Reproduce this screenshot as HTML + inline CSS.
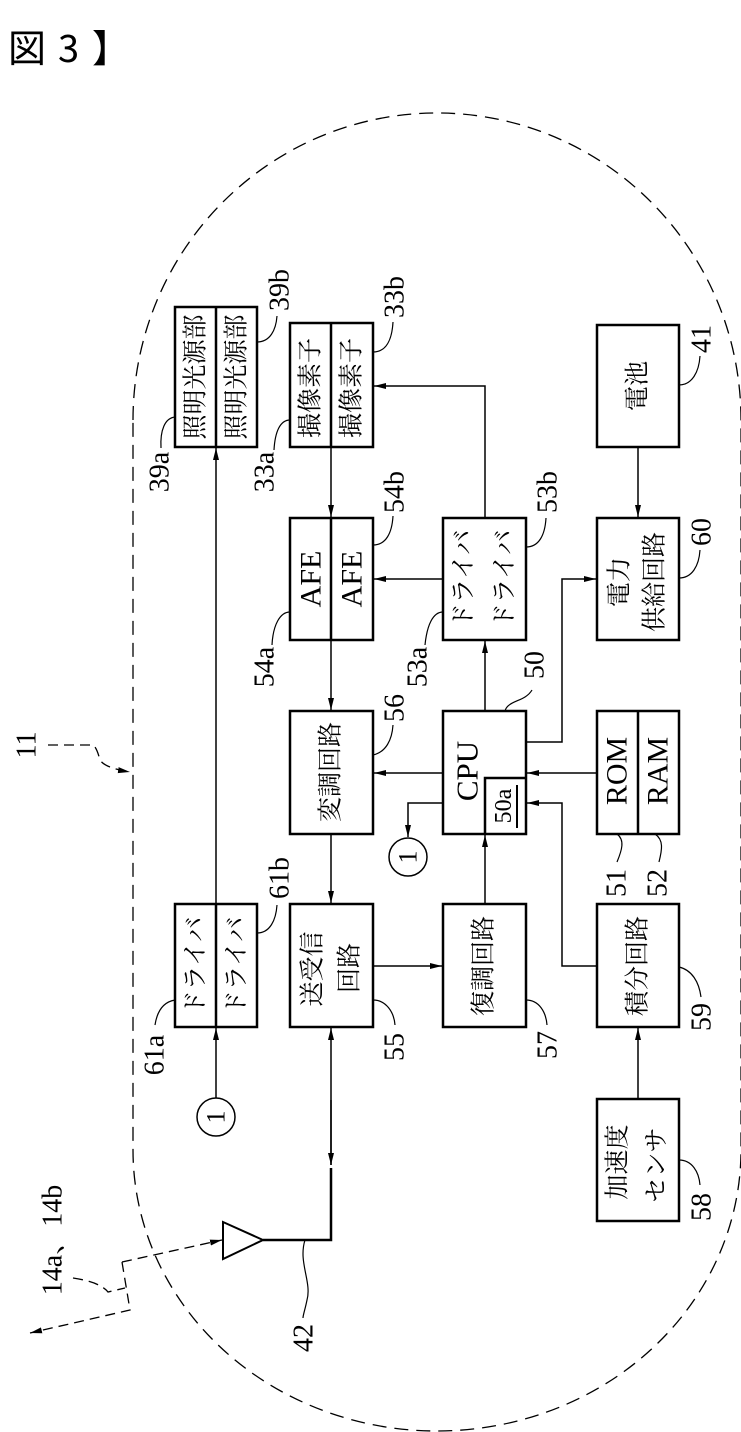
<!DOCTYPE html>
<html><head><meta charset="utf-8"><style>
html,body{margin:0;padding:0;background:#fff;}
svg{display:block;}
.t{font-family:"Liberation Serif","Noto Serif CJK JP",serif;fill:#000;}
.j{font-family:"Liberation Serif","Noto Serif CJK JP",serif;fill:#000;font-size:25px;}
.n{font-family:"Liberation Serif",serif;fill:#000;font-size:28px;}
</style></head><body>
<svg width="741" height="1432" viewBox="0 0 741 1432" xmlns="http://www.w3.org/2000/svg">
<defs>
<marker id="a" markerWidth="12" markerHeight="8" refX="12" refY="4" orient="auto" markerUnits="userSpaceOnUse"><path d="M0,1 L12,4 L0,7 Z" fill="#000"/></marker>
</defs>
<g style="font-family:'Noto Sans CJK JP',sans-serif;font-size:38px;">
<text x="8" y="62">図</text>
<text x="58" y="62">3</text>
<text x="92" y="62">】</text>
</g>

<!-- outline -->
<path d="M133,420 A304,307 0 0 1 741,420 L741,1150 A304,281 0 0 1 133,1150 Z" fill="none" stroke="#000" stroke-width="1.3" stroke-dasharray="14,8"/>

<g fill="none" stroke="#000" stroke-width="2.5">
<rect x="175" y="307" width="82" height="140"/>
<rect x="290" y="323" width="83" height="124"/>
<rect x="597" y="325" width="82" height="122"/>
<rect x="290" y="518" width="83" height="122"/>
<rect x="443" y="518" width="83" height="122"/>
<rect x="597" y="518" width="82" height="122"/>
<rect x="290" y="711" width="83" height="123"/>
<rect x="443" y="711" width="83" height="123"/>
<path d="M485,834 L485,778 L526,778"/>
<rect x="597" y="711" width="82" height="123"/>
<rect x="175" y="904" width="82" height="123"/>
<rect x="290" y="904" width="83" height="123"/>
<rect x="443" y="904" width="83" height="123"/>
<rect x="597" y="904" width="82" height="123"/>
<rect x="597" y="1099" width="82" height="122"/>
<line x1="216" y1="307" x2="216" y2="447"/>
<line x1="331" y1="323" x2="331" y2="447"/>
<line x1="331" y1="518" x2="331" y2="640"/>
<line x1="638" y1="711" x2="638" y2="834"/>
<line x1="216" y1="904" x2="216" y2="1027"/>
</g>

<!-- connectors -->
<g fill="none" stroke="#000" stroke-width="1.5">
<path d="M485,711 L485,641" marker-end="url(#a)"/>
<path d="M485,518 L485,386 L374,386" marker-end="url(#a)"/>
<path d="M443,579 L374,579" marker-end="url(#a)"/>
<path d="M331,447 L331,517" marker-end="url(#a)"/>
<path d="M331,640 L331,710" marker-end="url(#a)"/>
<path d="M443,773 L374,773" marker-end="url(#a)"/>
<path d="M443,803 L408,803 L408,837" marker-end="url(#a)"/>
<path d="M331,834 L331,903" marker-end="url(#a)"/>
<path d="M373,966 L442,966" marker-end="url(#a)"/>
<path d="M485,904 L485,835" marker-end="url(#a)"/>
<path d="M597,773 L527,773" marker-end="url(#a)"/>
<path d="M597,966 L562,966 L562,803 L527,803" marker-end="url(#a)"/>
<path d="M526,742 L562,742 L562,579 L596,579" marker-end="url(#a)"/>
<path d="M638,447 L638,517" marker-end="url(#a)"/>
<path d="M638,1099 L638,1028" marker-end="url(#a)"/>
<path d="M216,1098 L216,1028" marker-end="url(#a)"/>
<path d="M216,904 L216,448" marker-end="url(#a)"/>
<path d="M331,1165 L331,1028" marker-end="url(#a)"/>
<path d="M331,1100 L331,1165" marker-end="url(#a)"/>
<path d="M263,1240 L331,1240 L331,1168" stroke-width="2.5"/>
<polygon points="223,1222 223,1259 263,1240" stroke-width="2"/>
<circle cx="408" cy="857" r="19"/>
<circle cx="216" cy="1117" r="19"/>
<line x1="517" y1="785" x2="517" y2="828" stroke-width="2"/>
</g>

<!-- dashed radio path -->
<g fill="none" stroke="#000" stroke-width="1.3" stroke-dasharray="10,6">
<path d="M122,1262 L222,1240" marker-end="url(#a)"/>
<path d="M122,1262 L130,1310 L30,1333" marker-end="url(#a)"/>
<path d="M73,1278 Q100,1282 108,1292 L125,1288"/>
<path d="M48,745 L92,745 Q96,745 100,760 Q105,768 130,772" marker-end="url(#a)"/>
</g>

<!-- leaders -->
<g fill="none" stroke="#000" stroke-width="1.2">
<path d="M175,417 C165,418 160,430 161,448"/>
<path d="M257,342 C270,342 276,330 277,316"/>
<path d="M290,420 C280,420 275,432 274,450"/>
<path d="M373,352 C386,352 392,340 393,322"/>
<path d="M290,612 C280,612 273,625 272,645"/>
<path d="M373,545 C386,545 392,533 393,516"/>
<path d="M443,612 C433,612 427,625 425,645"/>
<path d="M526,547 C539,547 545,535 546,518"/>
<path d="M505,711 C508,700 525,702 532,690"/>
<path d="M679,385 C692,385 699,372 700,356"/>
<path d="M679,578 C692,578 699,566 700,550"/>
<path d="M373,755 C386,752 392,740 393,725"/>
<path d="M617,834 C625,840 622,850 617,862"/>
<path d="M655,834 C664,840 662,850 659,862"/>
<path d="M175,1000 C163,1002 157,1012 155,1025"/>
<path d="M257,933 C270,933 276,920 277,905"/>
<path d="M373,1000 C386,1000 394,1012 395,1025"/>
<path d="M526,1000 C539,1000 546,1012 547,1025"/>
<path d="M679,967 C692,970 699,982 701,997"/>
<path d="M679,1160 C692,1160 699,1172 700,1185"/>
<path d="M305,1240 C298,1262 312,1282 307,1300 C305,1310 303,1315 303,1318"/>
</g>

<!-- box texts (rotated -90) -->
<g class="j" text-anchor="middle" dominant-baseline="central">
<text transform="translate(196,377) rotate(-90)">照明光源部</text>
<text transform="translate(237,377) rotate(-90)">照明光源部</text>
<text transform="translate(311,388) rotate(-90)">撮像素子</text>
<text transform="translate(352,388) rotate(-90)">撮像素子</text>
<text transform="translate(464,579) rotate(-90)">ドライバ</text>
<text transform="translate(505,579) rotate(-90)">ドライバ</text>
<text transform="translate(638,386) rotate(-90)">電池</text>
<text transform="translate(620,582) rotate(-90)">電力</text>
<text transform="translate(655,582) rotate(-90)">供給回路</text>
<text transform="translate(331,772) rotate(-90)">変調回路</text>
<text transform="translate(484,966) rotate(-90)">復調回路</text>
<text transform="translate(638,966) rotate(-90)">積分回路</text>
<text transform="translate(313,969) rotate(-90)">送受信</text>
<text transform="translate(350,968) rotate(-90)">回路</text>
<text transform="translate(196,966) rotate(-90)">ドライバ</text>
<text transform="translate(237,966) rotate(-90)">ドライバ</text>
<text transform="translate(618,1162) rotate(-90)">加速度</text>
<text transform="translate(657,1165) rotate(-90)">センサ</text>
</g>
<g class="t" text-anchor="middle" dominant-baseline="central">
<text transform="translate(311,579) rotate(-90)" font-size="30">AFE</text>
<text transform="translate(352,579) rotate(-90)" font-size="30">AFE</text>
<text transform="translate(467,771) rotate(-90)" font-size="31">CPU</text>
<text transform="translate(504,806) rotate(-90)" font-size="24">50a</text>
<text transform="translate(617,771) rotate(-90)" font-size="30">ROM</text>
<text transform="translate(658,771) rotate(-90)" font-size="30">RAM</text>
<text transform="translate(408,857) rotate(-90)" font-size="26">1</text>
<text transform="translate(216,1117) rotate(-90)" font-size="26">1</text>
</g>

<!-- reference labels -->
<g class="n" text-anchor="middle" dominant-baseline="central">
<text transform="translate(160,472) rotate(-90)">39a</text>
<text transform="translate(280,290) rotate(-90)">39b</text>
<text transform="translate(265,472) rotate(-90)">33a</text>
<text transform="translate(395,297) rotate(-90)">33b</text>
<text transform="translate(265,667) rotate(-90)">54a</text>
<text transform="translate(395,492) rotate(-90)">54b</text>
<text transform="translate(418,667) rotate(-90)">53a</text>
<text transform="translate(548,492) rotate(-90)">53b</text>
<text transform="translate(535,665) rotate(-90)">50</text>
<text transform="translate(702,339) rotate(-90)">41</text>
<text transform="translate(702,532) rotate(-90)">60</text>
<text transform="translate(395,708) rotate(-90)">56</text>
<text transform="translate(617,883) rotate(-90)">51</text>
<text transform="translate(658,883) rotate(-90)">52</text>
<text transform="translate(155,1055) rotate(-90)">61a</text>
<text transform="translate(280,878) rotate(-90)">61b</text>
<text transform="translate(395,1047) rotate(-90)">55</text>
<text transform="translate(548,1045) rotate(-90)">57</text>
<text transform="translate(702,1017) rotate(-90)">59</text>
<text transform="translate(702,1207) rotate(-90)">58</text>
<text transform="translate(304,1338) rotate(-90)">42</text>
<text transform="translate(27,745) rotate(-90)">11</text>
<text transform="translate(53,1240) rotate(-90)" style="font-family:'Liberation Serif','Noto Serif CJK JP',serif">14a、14b</text>
</g>
</svg>
</body></html>
